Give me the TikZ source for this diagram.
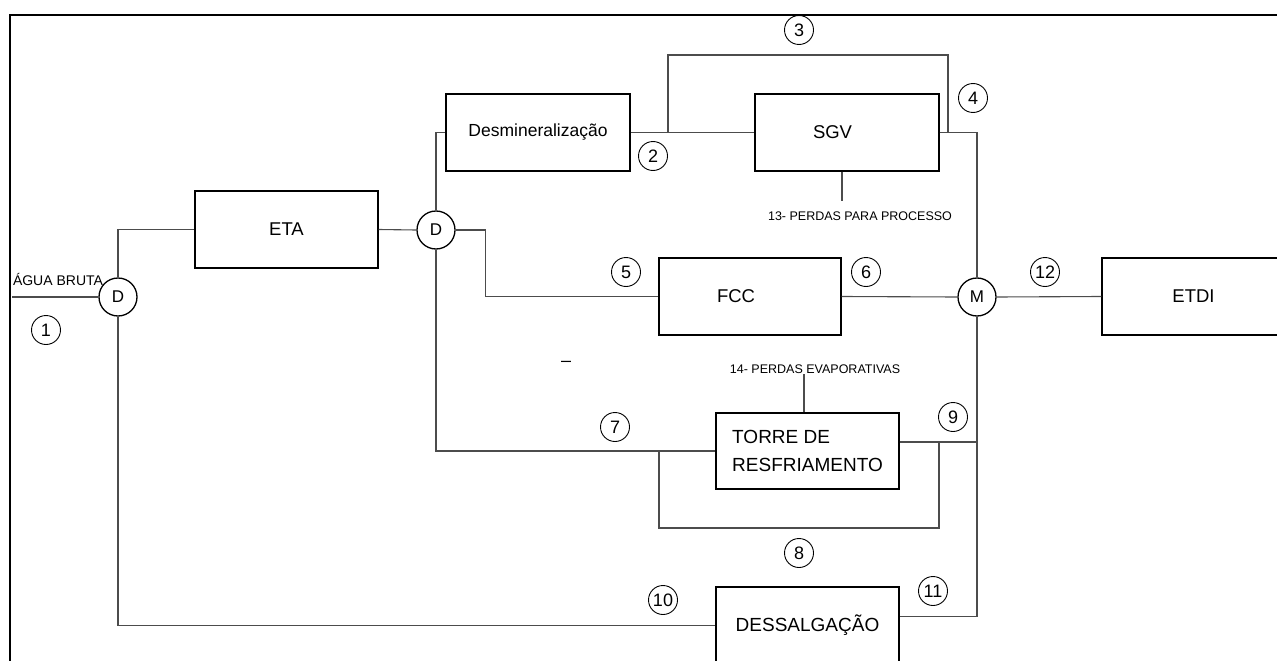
\documentclass[tikz,border=0pt]{standalone}
\usepackage{fontspec}
\setmainfont{Liberation Sans}
\usetikzlibrary{positioning}

\begin{document}
\begin{tikzpicture}[x=1pt,y=-1pt,
  unit/.style={rectangle,draw,line width=1.4pt,minimum width=183pt,minimum height=77pt,font=\fontsize{18.5}{22}\selectfont,align=center},
  mix/.style={circle,draw,line width=1.3pt,minimum size=38pt,inner sep=0pt,font=\fontsize{17}{17}\selectfont},
  num/.style={circle,draw,line width=0.9pt,minimum size=29pt,inner sep=0pt,font=\fontsize{18}{18}\selectfont},
  flow/.style={line width=1.1pt,draw=black!70},
  note/.style={inner sep=0pt,font=\fontsize{12.5}{14}\selectfont}
]
  \useasboundingbox (0,0) rectangle (1277,661);
  \clip (0,0) rectangle (1277,661);
  \draw[line width=2.5pt] (10,661) -- (10,15) -- (1277,15);

  % unidades
  \node[unit] (eta) at (286.5,229.5) {ETA};
  \node[unit,minimum width=184pt,font=\fontsize{17.5}{21}\selectfont] (desm) at (538,132.5) {Desmineralização};
  \node[unit,minimum width=184pt,align=left,text width=68pt] (sgv) at (847,132.5) {SGV};
  \node[unit,minimum width=182pt,align=left,text width=66pt] (fcc) at (750,296.5) {FCC};
  \node[unit,minimum height=76pt,align=left,font=\fontsize{19}{28}\selectfont] (torre) at (807.5,451) {TORRE DE\\RESFRIAMENTO};
  \node[unit,font=\fontsize{19}{22}\selectfont] (dessalg) at (807.5,625.5) {DESSALGAÇÃO};
  \node[unit] (etdi) at (1193.5,296.5) {ETDI};

  % divisores e misturador
  \node[mix] (D1) at (118,297) {D};
  \node[mix] (D2) at (436,230) {D};
  \node[mix] (M)  at (977,297) {M};

  \node[inner sep=0pt,font=\fontsize{14}{16}\selectfont] (agua) at (58,279) {ÁGUA BRUTA};
  \node[note] (perdas13) at (860,216) {13- PERDAS PARA PROCESSO};
  \node[note] (perdas14) at (815,369) {14- PERDAS EVAPORATIVAS};
  \node[inner sep=0pt,font=\fontsize{18}{18}\selectfont] (traco) at (566,364) {–};

  \foreach \n/\x/\y in {1/46/330, 2/653/156, 3/799/30, 4/973/98, 5/626/272, 6/866/272,
                        7/615/427, 8/799/553, 9/953/417, 10/663/600, 11/933/591, 12/1045/272}
    { \node[num] (c\n) at (\x,\y) {\n}; }

  \coordinate (src) at (12,297);
  \coordinate (b3) at (668,132.5);
  \coordinate (r8) at (659,451);
  \coordinate (t9) at ([yshift=9pt]torre.east);
  \coordinate (s11) at ([yshift=9pt]dessalg.east);

  \draw[flow] (src) -- (D1.west);
  \draw[flow] (D1.north) |- (eta.west);
  \draw[flow] (eta.east) -- (D2.west);
  \draw[flow] (D2.north) |- (desm.west);
  \draw[flow] (desm.east) -- (sgv.west);
  \draw[flow] (b3) |- (948,55) -- (948,132.5);
  \draw[flow] (sgv.east) -| (M.north);
  \draw[flow] ([xshift=-5pt]sgv.south) -- ++(0,29);
  \draw[flow] (D2.east) -- ++(30,0) |- (fcc.west);
  \draw[flow] (fcc.east) -- (M.west);
  \draw[flow] (M.east) -- (etdi.west);
  \draw[flow] (D2.south) |- (torre.west);
  \draw[flow] ([xshift=-3.5pt]torre.north) -- ++(0,-38);
  \draw[flow] (r8) -- (659,528) -| (939,442);
  \draw[flow] (t9) -- (t9 -| M.south);
  \draw[flow] (M.south) |- (s11);
  \draw[flow] (D1.south) |- (dessalg.west);
\end{tikzpicture}
\end{document}
